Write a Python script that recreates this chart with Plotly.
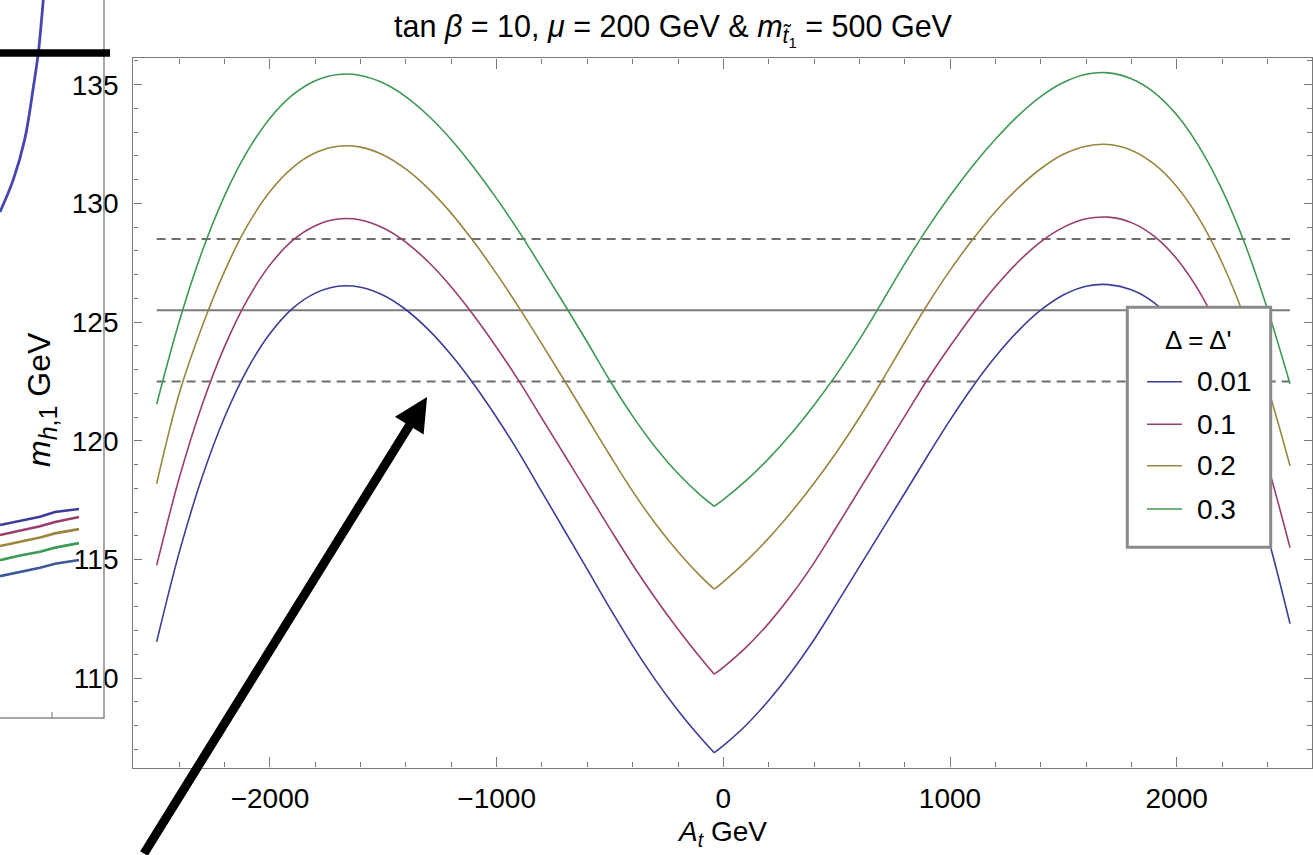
import plotly.graph_objects as go

# ---------------- data ----------------
A_t = [-2500, -2400, -2300, -2200, -2100, -2000, -1900, -1800, -1700, -1600,
       -1500, -1400, -1300, -1200, -1100, -1000, -900, -800, -700, -600,
       -500, -400, -300, -200, -100, -40, 0, 100, 200, 300,
       400, 500, 600, 700, 800, 900, 1000, 1100, 1200, 1300,
       1400, 1500, 1600, 1700, 1800, 1900, 2000, 2100, 2200, 2300,
       2400, 2500]
MIN_INDEX = 25  # the kink of every curve sits at A_t = -40 GeV

m_h_001 = [111.53, 115.31, 118.45, 121.00, 123.01, 124.52, 125.58, 126.22, 126.51, 126.47,
           126.13, 125.52, 124.67, 123.61, 122.37, 120.98, 119.47, 117.84, 116.21, 114.58,
           112.94, 111.37, 109.93, 108.64, 107.49, 106.86, 107.16, 108.02, 109.06, 110.26,
           111.62, 113.14, 114.69, 116.24, 117.79, 119.35, 120.87, 122.28, 123.54, 124.62,
           125.50, 126.14, 126.51, 126.58, 126.36, 125.82, 124.89, 123.51, 121.61, 119.14,
           116.02, 112.30]

m_h_01 = [114.75, 118.44, 121.50, 123.98, 125.94, 127.41, 128.44, 129.06, 129.34, 129.30,
          128.96, 128.36, 127.52, 126.48, 125.27, 123.93, 122.49, 120.94, 119.39, 117.84,
          116.29, 114.78, 113.37, 112.06, 110.85, 110.17, 110.46, 111.30, 112.31, 113.50,
          114.86, 116.38, 117.93, 119.48, 121.03, 122.57, 123.98, 125.30, 126.49, 127.53,
          128.38, 128.99, 129.35, 129.42, 129.19, 128.62, 127.67, 126.28, 124.41, 122.00,
          119.01, 115.50]

m_h_02 = [118.19, 122.00, 124.80, 127.15, 129.06, 130.50, 131.51, 132.13, 132.41, 132.37,
          132.04, 131.44, 130.61, 129.58, 128.37, 127.03, 125.59, 124.07, 122.52, 120.95,
          119.38, 117.87, 116.52, 115.33, 114.29, 113.75, 114.06, 114.92, 115.90, 117.00,
          118.21, 119.53, 120.97, 122.53, 124.15, 125.73, 127.18, 128.48, 129.65, 130.64,
          131.46, 132.07, 132.41, 132.48, 132.24, 131.66, 130.71, 129.34, 127.51, 125.18,
          122.30, 118.95]

m_h_03 = [121.54, 125.04, 127.96, 130.33, 132.19, 133.59, 134.57, 135.17, 135.43, 135.39,
          135.07, 134.49, 133.68, 132.68, 131.50, 130.20, 128.79, 127.27, 125.73, 124.15,
          122.53, 121.04, 119.73, 118.62, 117.70, 117.24, 117.52, 118.32, 119.25, 120.31,
          121.50, 122.81, 124.26, 125.84, 127.45, 128.95, 130.32, 131.58, 132.70, 133.69,
          134.50, 135.09, 135.44, 135.50, 135.25, 134.68, 133.73, 132.37, 130.58, 128.32,
          125.56, 122.40]

series_names = ["0.01", "0.1", "0.2", "0.3"]
series_values = [m_h_001, m_h_01, m_h_02, m_h_03]
series_colors = ["#3d3d99", "#993d71", "#99853d", "#3d9954"]
legend_title = "Δ = Δ'"

# reference band: 125.5 +/- 3 GeV
ref_x = [-2500, 2500]
ref_center = 125.5
ref_upper = 128.5
ref_lower = 122.5

x_ticks = [-2000, -1000, 0, 1000, 2000]
y_ticks = [110, 115, 120, 125, 130, 135]

# fragment of the neighbouring figure visible at the left edge
frag_curve_x = [43.3, 41.7, 38.3, 33.3, 25.0, 13.3, 0.0]
frag_curve_y = [138.57, 137.80, 136.34, 134.88, 132.75, 131.00, 129.64]
frag_bar_x = [0, 110]
frag_bar_y = [136.34, 136.34]
frag_lines_x = [0, 20, 40, 55, 79]
frag_lines_y = [
    [116.45, 116.62, 116.80, 117.00, 117.13],
    [116.03, 116.20, 116.40, 116.58, 116.79],
    [115.57, 115.75, 115.93, 116.10, 116.28],
    [114.97, 115.17, 115.33, 115.50, 115.69],
    [114.30, 114.48, 114.65, 114.82, 114.98],
]
frag_lines_colors = ["#3d3d99", "#993d71", "#99853d", "#3d9954", "#3d5899"]
frag_frame_x = [0, 104, 104]
frag_frame_y = [108.32, 108.32, 138.6]
frag_tick_x = [52, 52]
frag_tick_y = [108.32, 108.58]

# ---------------- figure ----------------
W, H = 1313, 855
ML, MR, MT, MB = 0, 1, 0, 87
PW = W - ML - MR
PH = H - MT - MB

def px_x(p):
    return (p - ML) / PW

def px_y(p):
    return (PH - (p - MT)) / PH

FONT = "Liberation Sans, Arial, sans-serif"
FRAME = "#7a7a7a"

fig = go.Figure()

# reference lines
fig.add_trace(go.Scatter(x=ref_x, y=[ref_upper] * 2, mode="lines",
                         line=dict(color="#6e6e6e", width=2, dash="9px,6px"),
                         showlegend=False, hoverinfo="skip"))
fig.add_trace(go.Scatter(x=ref_x, y=[ref_center] * 2, mode="lines",
                         line=dict(color="#7a7a7a", width=2),
                         showlegend=False, hoverinfo="skip"))
fig.add_trace(go.Scatter(x=ref_x, y=[ref_lower] * 2, mode="lines",
                         line=dict(color="#6e6e6e", width=2, dash="9px,6px"),
                         showlegend=False, hoverinfo="skip"))

# each curve: two smooth branches meeting at the kink
for name, vals, col in zip(series_names, series_values, series_colors):
    fig.add_trace(go.Scatter(x=A_t[:MIN_INDEX + 1], y=vals[:MIN_INDEX + 1], mode="lines",
                             name=name, legendgroup=name, showlegend=False,
                             line=dict(color=col, width=1.6, shape="spline", smoothing=1.0)))
    fig.add_trace(go.Scatter(x=A_t[MIN_INDEX:], y=vals[MIN_INDEX:], mode="lines",
                             name=name, legendgroup=name, showlegend=False,
                             line=dict(color=col, width=1.6, shape="spline", smoothing=1.0)))

# left fragment
fig.add_trace(go.Scatter(x=frag_frame_x, y=frag_frame_y, mode="lines", xaxis="x2", yaxis="y2",
                         line=dict(color="#8a8a8a", width=1.5), showlegend=False, hoverinfo="skip"))
fig.add_trace(go.Scatter(x=frag_tick_x, y=frag_tick_y, mode="lines", xaxis="x2", yaxis="y2",
                         line=dict(color="#8a8a8a", width=1.2), showlegend=False, hoverinfo="skip"))
fig.add_trace(go.Scatter(x=frag_curve_x, y=frag_curve_y, mode="lines", xaxis="x2", yaxis="y2",
                         line=dict(color="#4646b0", width=2.8, shape="spline"),
                         showlegend=False, hoverinfo="skip"))
for ys, col in zip(frag_lines_y, frag_lines_colors):
    fig.add_trace(go.Scatter(x=frag_lines_x, y=ys, mode="lines", xaxis="x2", yaxis="y2",
                             line=dict(color=col, width=2.6),
                             showlegend=False, hoverinfo="skip"))
fig.add_trace(go.Scatter(x=frag_bar_x, y=frag_bar_y, mode="lines", xaxis="x2", yaxis="y2",
                         line=dict(color="black", width=7.5), showlegend=False, hoverinfo="skip"))

axis_common = dict(showgrid=False, zeroline=False, showline=True, linecolor=FRAME,
                   linewidth=1.4, mirror="allticks", ticks="inside", tickcolor=FRAME,
                   tickfont=dict(family=FONT, size=28, color="black"))

fig.update_layout(
    width=W, height=H,
    margin=dict(l=ML, r=MR, t=MT, b=MB, pad=0),
    paper_bgcolor="white", plot_bgcolor="rgba(0,0,0,0)",
    font=dict(family=FONT, color="black"),
    showlegend=False,
    xaxis=dict(domain=[px_x(133.3), 1.0], range=[-2603, 2597], tickvals=x_ticks,
               ticklen=10, tickwidth=1.2, ticklabelstandoff=6,
               minor=dict(dtick=200, tick0=0, ticks="inside", ticklen=5.5,
                          tickcolor=FRAME, tickwidth=1),
               anchor="y", **axis_common),
    yaxis=dict(domain=[px_y(767.5), px_y(58.3)], range=[106.238, 136.112], tickvals=y_ticks,
               ticklen=8, tickwidth=1.2, ticklabelstandoff=8,
               minor=dict(dtick=1, tick0=0, ticks="inside", ticklen=4.5,
                          tickcolor=FRAME, tickwidth=1),
               anchor="x", **axis_common),
    xaxis2=dict(domain=[0, px_x(110)], range=[0, 110], visible=False, anchor="y2"),
    yaxis2=dict(domain=[px_y(720), 1.0], range=[108.239, 138.568], visible=False, anchor="x2"),
)

# ---------------- legend box (drawn above the curves) ----------------
LEG_LEFT, LEG_RIGHT, LEG_TOP, LEG_BOTTOM = 1127.3, 1270.7, 307.3, 547.3
LEG_ROWS = [381.7, 424.3, 465.7, 509.0]
shapes = [dict(type="rect", xref="paper", yref="paper", layer="above",
               x0=px_x(LEG_LEFT), x1=px_x(LEG_RIGHT), y0=px_y(LEG_BOTTOM), y1=px_y(LEG_TOP),
               line=dict(color="#8a8a8a", width=3), fillcolor="white")]
annotations = [dict(text=legend_title, x=px_x(1198), y=px_y(340), xref="paper", yref="paper",
                    showarrow=False, xanchor="center", yanchor="middle",
                    font=dict(family=FONT, size=26, color="black"))]
for name, col, row in zip(series_names, series_colors, LEG_ROWS):
    shapes.append(dict(type="line", xref="paper", yref="paper", layer="above",
                       x0=px_x(1147), x1=px_x(1182), y0=px_y(row), y1=px_y(row),
                       line=dict(color=col, width=1.6)))
    annotations.append(dict(text=name, x=px_x(1195), y=px_y(row), xref="paper", yref="paper",
                            showarrow=False, xanchor="left", yanchor="middle",
                            font=dict(family=FONT, size=28, color="black")))

annotations += [
    dict(text="tan <i>β</i> = 10, <i>μ</i> = 200 GeV &amp; <i>m</i><sub><i>t̃</i><sub>1</sub></sub> = 500 GeV",
         x=px_x(673), y=px_y(30), xref="paper", yref="paper", showarrow=False,
         xanchor="center", yanchor="middle", font=dict(family=FONT, size=30.5, color="black")),
    dict(text="<i>m</i><sub><span style=\"font-size:25px\"><i>h</i>,1</span></sub> GeV",
         x=px_x(42), y=px_y(400), xref="paper", yref="paper",
         showarrow=False, textangle=-90, xanchor="center", yanchor="middle",
         font=dict(family=FONT, size=32, color="black")),
    dict(text="<i>A</i><sub><i>t</i></sub> GeV", x=px_x(722), y=px_y(833), xref="paper", yref="paper",
         showarrow=False, xanchor="center", yanchor="middle",
         font=dict(family=FONT, size=28, color="black")),
    dict(text="", x=-1307, y=121.85, xref="x", yref="y", showarrow=True,
         ax=-284, ay=483, axref="pixel", ayref="pixel",
         arrowhead=2, arrowsize=0.75, arrowwidth=9, arrowcolor="black"),
]
fig.update_layout(shapes=shapes, annotations=annotations)

fig.write_html("out.html")
